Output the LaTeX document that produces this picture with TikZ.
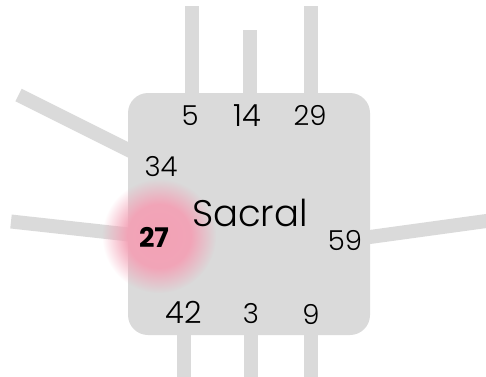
\documentclass[tikz,border=0pt]{standalone}
\usepackage{fontspec}
\setmainfont{Poppins Light}[BoldFont=Poppins Bold]
\usetikzlibrary{fadings}
\definecolor{centregray}{HTML}{DADADA}
\definecolor{glowpink}{HTML}{F3A2B6}
\pgfdeclareradialshading{sacralglowmask}{\pgfpointorigin}{color(0bp)=(pgftransparent!0); color(14bp)=(pgftransparent!5); color(25bp)=(pgftransparent!100); color(50bp)=(pgftransparent!100)}
\pgfdeclarefading{sacralglow}{\pgfuseshading{sacralglowmask}}
\tikzset{
  gatebar/.style={draw=centregray, line width=14pt},
  centrebox/.style={fill=centregray, rounded corners=20pt, minimum width=242pt, minimum height=242pt, inner sep=0pt},
  centrelabel/.style={inner sep=0pt, font=\fontsize{37}{37}\selectfont},
  gatenum/.style={inner sep=0pt, font=\fontsize{27.5}{27.5}\selectfont},
  gatebig/.style={gatenum, font=\fontsize{30.5}{30.5}\selectfont},
  gateactive/.style={gatenum, font=\fontsize{27}{27}\selectfont\bfseries},
}
\begin{document}
\begin{tikzpicture}[x=1pt,y=-1pt]
        \useasboundingbox (0,0) rectangle (486,376);
        \newcommand{\sacralcx}{249}
        \newcommand{\sacralcy}{214}
        \newcommand{\sacralglowx}{159}
        \newcommand{\sacralglowy}{236}
        \newcommand{\sacralglowrad}{57}
        \node[centrebox] (sacral) at (\sacralcx,\sacralcy) {};
        \coordinate (top5end) at (192,6);
        \coordinate (top14end) at (250,30);
        \coordinate (top29end) at (310.5,6);
        \coordinate (bot42end) at (184,382);
        \coordinate (bot3end) at (250.5,382);
        \coordinate (bot9end) at (310.5,382);
        \coordinate (left34end) at (18.5,95);
        \coordinate (left34in) at (140,155.75);
        \coordinate (left27end) at (11,221.5);
        \coordinate (left27in) at (140,235.7);
        \coordinate (right59end) at (495,219.8);
        \coordinate (right59in) at (364,237.8);
        \draw[gatebar] (top5end) -- (top5end |- sacral.north);
        \draw[gatebar] (top14end) -- (top14end |- sacral.north);
        \draw[gatebar] (top29end) -- (top29end |- sacral.north);
        \draw[gatebar] (bot42end) -- (bot42end |- sacral.south);
        \draw[gatebar] (bot3end) -- (bot3end |- sacral.south);
        \draw[gatebar] (bot9end) -- (bot9end |- sacral.south);
        \draw[gatebar] (left34end) -- (left34in);
        \draw[gatebar] (left27end) -- (left27in);
        \draw[gatebar] (right59end) -- (right59in);
        \fill[glowpink, path fading=sacralglow] (\sacralglowx,\sacralglowy) circle (\sacralglowrad);
        \node[centrelabel] (sacrallabel) at (250,213) {Sacral};
        \node[gatenum] (gate5) at (190,116) {5};
        \node[gatebig] (gate14) at (247,116) {14};
        \node[gatenum] (gate29) at (310,115.5) {29};
        \node[gatenum] (gate34) at (161,167) {34};
        \node[gateactive] (gate27) at (154,237.5) {27};
        \node[gatenum] (gate59) at (345,240) {59};
        \node[gatebig] (gate42) at (184,312.5) {42};
        \node[gatenum] (gate3) at (251,314) {3};
        \node[gatenum] (gate9) at (311,314) {9};
\end{tikzpicture}
\end{document}
